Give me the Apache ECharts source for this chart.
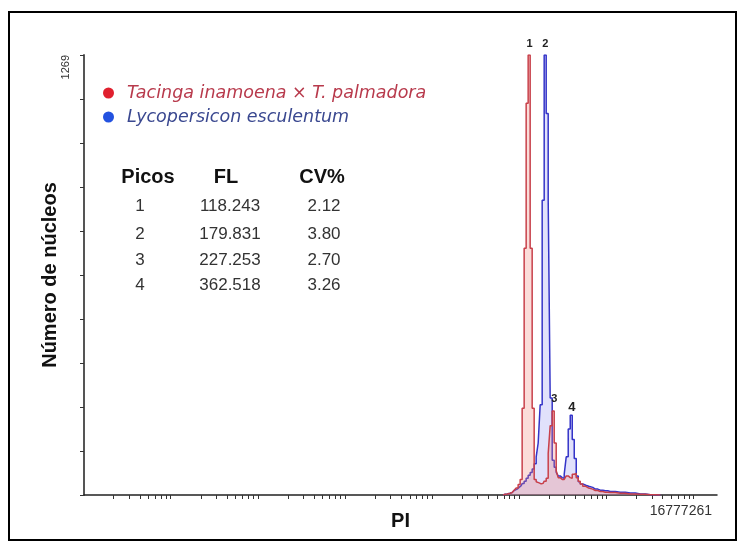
<!DOCTYPE html>
<html><head><meta charset="utf-8">
<script src="https://cdn.jsdelivr.net/npm/echarts@6/dist/echarts.min.js"></script>
<style>html,body{margin:0;padding:0;background:#fff}#c{width:745px;height:547px}</style>
</head><body><div id="c"></div>
<script>
// ---- data ----
const seriesNames = ['Tacinga inamoena \u00d7 T. palmadora', 'Lycopersicon esculentum'];
// PI channel (fluorescence) of each histogram bin
const piChannels = [58900, 62100, 65500, 69050, 72800, 76770, 80900, 85310, 89950, 94840,
  100000, 105440, 111170, 117220, 123600, 130300, 137400, 144900, 152700, 161000,
  169800, 179000, 188800, 199000, 209800, 221200, 233300, 245900, 259300, 273400,
  288300, 303900, 320400, 337900, 356200, 375600, 396000, 417600, 440300, 464200,
  502500, 544000, 589000, 672500, 767800, 876000, 1000000, 1303000, 1698000, 2212000,
  2883000, 3756000];
const tacingaCounts = [0, 2, 3, 5, 7, 10, 14, 20, 30, 45,
  250, 712, 1130, 1269, 712, 250, 45, 38, 35, 32,
  34, 40, 48, 120, 200, 242, 150, 70, 50, 45,
  45, 50, 55, 50, 48, 60, 62, 50, 40, 32,
  25, 20, 17, 13, 10, 8, 7, 5, 3, 2,
  1, 0];
const lycoCounts = [0, 2, 3, 5, 7, 10, 13, 17, 22, 27,
  33, 40, 48, 57, 65, 75, 90, 110, 150, 260,
  850, 1269, 1100, 850, 280, 100, 80, 65, 55, 50,
  48, 60, 110, 190, 230, 160, 105, 55, 38, 32,
  28, 25, 22, 17, 14, 12, 10, 8, 6, 3,
  1, 0];
const peakNames = ['1', '2', '3', '4'];
const peakFL = [118243, 179831, 227253, 362518];
const peakCounts = [1269, 1269, 242, 230];
const peakOfSeries = [0, 1, 0, 1];
const tableHeader = ['Picos', 'FL', 'CV%'];
const tablePicos = ['1', '2', '3', '4'];
const tableFL = ['118.243', '179.831', '227.253', '362.518'];
const tableCV = ['2.12', '3.80', '2.70', '3.26'];
const yMax = 1269;
const yTickCount = 10;
const xMax = 16777216;
const xMaxLabel = '16777261';
const yLabel = '1269';

// ---- build ----
const lg = Math.log10;
const xTicks = [];
for (let n = 0; n <= 7; n++) for (let k = 2; k <= 9; k++) {
  const v = k * Math.pow(10, n);
  if (v <= xMax) xTicks.push(lg(v));
}
const colors = {
  line: ['#c8404a', '#3434c8'],
  dot: ['#e0202e', '#2352e0'],
  text: ['#b83a4c', '#3a4890'],
  area: ['rgba(240,130,120,0.4)', 'rgba(130,130,240,0.35)']
};
function peakMarks(s) {
  const d = [];
  peakNames.forEach((p, i) => {
    if (peakOfSeries[i] !== s) return;
    d.push({ name: p, coord: [lg(peakFL[i]), peakCounts[i]],
      label: { distance: p === '1' || p === '2' ? 5 : (p === '3' ? 6 : 1), fontSize: p === '4' ? 13 : 11 } });
  });
  return {
    symbol: 'circle', symbolSize: 1, itemStyle: { color: 'rgba(0,0,0,0)' },
    label: { show: true, position: 'top', formatter: '{b}', color: '#222', fontWeight: 'bold',
      fontFamily: 'Liberation Sans' },
    data: d
  };
}
const counts = [tacingaCounts, lycoCounts];
const series = seriesNames.map((nm, s) => ({
  name: nm, type: 'line', step: 'middle', symbol: 'none', z: s === 0 ? 3 : 2,
  data: piChannels.map((c, i) => [lg(c), counts[s][i]]),
  lineStyle: { color: colors.line[s], width: 1.5 },
  itemStyle: { color: colors.dot[s] },
  areaStyle: { color: colors.area[s] },
  markPoint: peakMarks(s)
}));

const colX = [140, 230, 324];
const headX = [148, 226, 322];
const headY = 177;
const rowY = [206, 234, 260, 285];
const graphics = [{
  type: 'rect', shape: { x: 9, y: 12, width: 727, height: 528 },
  style: { fill: 'none', stroke: '#000', lineWidth: 2 }, silent: true
}];
tableHeader.forEach((h, j) => graphics.push({
  type: 'text', x: headX[j], y: headY,
  style: { text: h, align: 'center', verticalAlign: 'middle', fill: '#111',
    font: 'bold 20px "Liberation Sans"' }
}));
[tablePicos, tableFL, tableCV].forEach((col, j) => col.forEach((t, i) => graphics.push({
  type: 'text', x: colX[j], y: rowY[i],
  style: { text: t, align: 'center', verticalAlign: 'middle', fill: '#333',
    font: '17px "Liberation Sans"' }
})));

const chart = echarts.init(document.getElementById('c'), null, { renderer: 'canvas' });
chart.setOption({
  animation: false,
  backgroundColor: '#fff',
  grid: { left: 84, right: 28, top: 55, bottom: 52 },
  legend: {
    orient: 'vertical', left: 98, top: 79, itemGap: 6, itemWidth: 11, itemHeight: 11,
    icon: 'circle',
    data: seriesNames.map((n, s) => ({ name: n, itemStyle: { color: colors.dot[s] },
      textStyle: { color: colors.text[s] } })),
    textStyle: { fontFamily: 'DejaVu Sans', fontStyle: 'italic', fontSize: 17.5, padding: [0, 0, 0, 8] }
  },
  xAxis: {
    type: 'value', min: -0.04, max: lg(xMax),
    name: 'PI', nameLocation: 'middle', nameGap: 16, nameMoveOverlap: false,
    nameTextStyle: { fontFamily: 'Liberation Sans', fontWeight: 'bold', fontSize: 20, color: '#111' },
    axisLine: { onZero: false, lineStyle: { color: '#222', width: 1.5 } },
    axisTick: { customValues: xTicks, length: 4, lineStyle: { color: '#333', width: 1 } },
    axisLabel: { customValues: [lg(xMax)], formatter: () => xMaxLabel, align: 'right',
      padding: [0, 5, 0, 0], margin: 9, fontSize: 14, color: '#333', fontFamily: 'Liberation Sans' },
    splitLine: { show: false }
  },
  yAxis: {
    type: 'value', min: 0, max: yMax, interval: yMax / yTickCount,
    name: 'Número de núcleos', nameLocation: 'middle', nameGap: 24, nameMoveOverlap: false,
    nameTextStyle: { fontFamily: 'Liberation Sans', fontWeight: 'bold', fontSize: 20, color: '#111' },
    axisLine: { show: true, onZero: false, lineStyle: { color: '#555', width: 2 } },
    axisTick: { show: true, length: 4, lineStyle: { color: '#333', width: 1 } },
    axisLabel: { customValues: [yMax], formatter: () => yLabel, rotate: 90, align: 'right',
      verticalAlign: 'middle', margin: 18, fontSize: 11, color: '#333', fontFamily: 'Liberation Sans' },
    splitLine: { show: false }
  },
  series: series,
  graphic: graphics
});
</script></body></html>
